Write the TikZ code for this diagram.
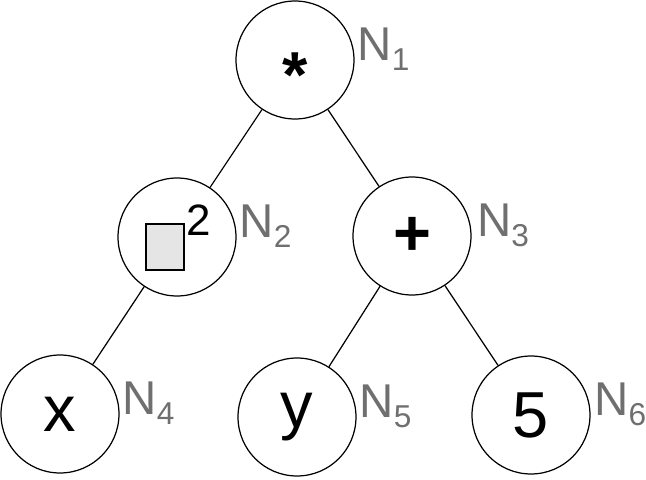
\documentclass[tikz,border=0pt]{standalone}
\usepackage{fontspec}
\setmainfont{Liberation Sans}
\usetikzlibrary{positioning}

\definecolor{labelgray}{HTML}{6F6F6F}
\definecolor{boxgray}{HTML}{E5E5E5}

% node name with subscript index
\newcommand{\nname}[1]{N\raisebox{-5.7pt}{\fontsize{18}{18}\selectfont #1}}

\tikzset{
  treenode/.style={draw, circle, line width=0.7pt, minimum size=2.36cm, inner sep=0pt,
    font=\fontsize{37}{40}\selectfont},
  namelabel/.style={anchor=base west, text=labelgray, inner sep=0pt,
    font=\fontsize{27}{30}\selectfont},
  holebox/.style={draw, line width=0.6pt, fill=boxgray, minimum width=0.76cm,
    minimum height=0.92cm, inner sep=0pt}
}

\begin{document}
\begin{tikzpicture}[x=0.02cm, y=-0.02cm]
    \useasboundingbox (0,0) rectangle (646,480);

    % Tree nodes
    \node[treenode] (n1) at (295,60) {\raisebox{-0.57em}[0pt][0pt]{\bfseries *}};
    \node[treenode] (n2) at (177,237) {};
    \node[treenode] (n3) at (412,236) {\bfseries +};
    \node[treenode] (n4) at (60,414) {x};
    \node[treenode] (n5) at (297,417) {y};
    \node[treenode] (n6) at (531,415) {5};

    % Square with exponent
    \node[holebox] (hole) at (165,247) {};
    \node[anchor=base west, inner sep=0pt, font=\fontsize{25}{28}\selectfont] (expo) at (186,235) {2};

    % Edges
    \draw[line width=0.7pt] (n1) -- (n2);
    \draw[line width=0.7pt] (n1) -- (n3);
    \draw[line width=0.7pt] (n2) -- (n4);
    \draw[line width=0.7pt] (n3) -- (n5);
    \draw[line width=0.7pt] (n3) -- (n6);

    % Names
    \node[namelabel] (l1) at ([xshift=1.5pt]n1.east) {\nname{1}};
    \node[namelabel] (l2) at ([xshift=1.5pt]n2.east) {\nname{2}};
    \node[namelabel] (l3) at ([xshift=3pt]n3.east) {\nname{3}};
    \node[namelabel] (l4) at ([xshift=1.5pt]n4.east) {\nname{4}};
    \node[namelabel] (l5) at ([xshift=1.5pt]n5.east) {\nname{5}};
    \node[namelabel] (l6) at ([xshift=2pt]n6.east) {\nname{6}};
\end{tikzpicture}
\end{document}
